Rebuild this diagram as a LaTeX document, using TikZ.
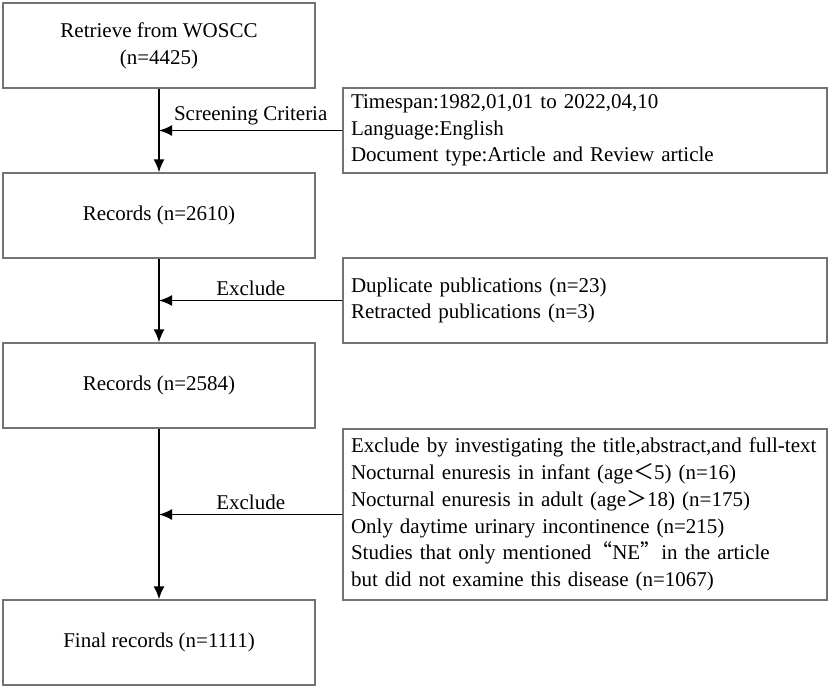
\documentclass[tikz,border=0pt]{standalone}
\usepackage{fontspec}
\setmainfont{Liberation Serif}
\newfontfamily\cjk{Noto Sans CJK SC}
\usetikzlibrary{arrows.meta,positioning}
\tikzstyle{block} = [rectangle, draw=black!55, line width=1.2pt, fill=white, text centered, minimum width=312pt, minimum height=85pt, inner sep=0pt]
\tikzstyle{note} = [rectangle, draw=black!55, line width=1.2pt, fill=white, align=left, text width=468pt, minimum height=85pt, inner xsep=8pt, inner ysep=0pt]
\tikzstyle{line} = [draw, line width=1.8pt, -{Latex[length=13pt,width=11pt]}]

\begin{document}
\begin{tikzpicture}[x=1pt,y=-1pt,font=\fontsize{21}{26.7}\selectfont]
\useasboundingbox (0,0) rectangle (829,688);
\node [block, align=center] (retrieve) at (159,45.5) {Retrieve from WOSCC\\(n=4425)};
\node [block] (rec-a) at (159,215.5) {Records (n=2610)};
\node [block] (rec-b) at (159,385.5) {Records (n=2584)};
\node [block] (final) at (159,642.5) {Final records (n=1111)};
\path [line] (retrieve) -- (rec-a);
\path [line] (rec-a) -- (rec-b);
\path [line] (rec-b) -- (final);
\node [note] (criteria) at (585,130.5) {Timespan:1982,01,01 to 2022,04,10\\Language:English\\Document type:Article and Review article};
\node [note] (dup) at (585,300.5) {Duplicate publications (n=23)\\Retracted publications (n=3)};
\node [note, minimum height=171pt] (full) at (585,514.5) {Exclude by investigating the title,abstract,and full-text\\Nocturnal enuresis in infant (age{\cjk ＜}5) (n=16)\\Nocturnal enuresis in adult (age{\cjk ＞}18) (n=175)\\Only daytime urinary incontinence (n=215)\\Studies that only mentioned{\cjk “}NE{\cjk ”}in\ the article\\but did not examine this disease (n=1067)};
\path [line] (criteria.west) -- node [above=1pt] (screen-lbl) {Screening Criteria} (criteria.west -| retrieve.south);
\path [line] (dup.west) -- node [above=1pt] (excl-a) {Exclude} (dup.west -| rec-a.south);
\path [line] (full.west) -- node [above=1pt] (excl-b) {Exclude} (full.west -| rec-b.south);
\end{tikzpicture}
\end{document}
